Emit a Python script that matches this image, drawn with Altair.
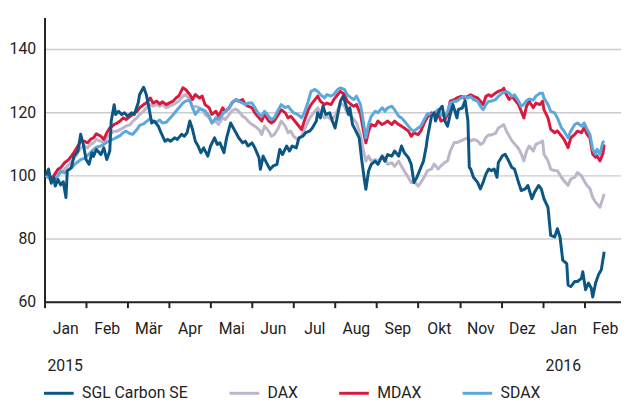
import altair as alt
import pandas as pd

# ---------------- data ----------------
idx_dates = [
    "2015-01-02","2015-01-07","2015-01-11","2015-01-13","2015-01-16","2015-01-19","2015-01-22","2015-01-25","2015-01-28","2015-01-31",
    "2015-02-02","2015-02-04","2015-02-06","2015-02-08","2015-02-11","2015-02-13","2015-02-15","2015-02-17","2015-02-20","2015-02-22","2015-02-24","2015-02-26","2015-02-28",
    "2015-03-03","2015-03-05","2015-03-08","2015-03-10","2015-03-13","2015-03-15","2015-03-18","2015-03-20","2015-03-23","2015-03-25","2015-03-27","2015-03-30",
    "2015-04-01","2015-04-04","2015-04-06","2015-04-08","2015-04-11","2015-04-13","2015-04-16","2015-04-18","2015-04-20","2015-04-23","2015-04-25","2015-04-27","2015-04-30",
    "2015-05-02","2015-05-05","2015-05-07","2015-05-10","2015-05-12","2015-05-15","2015-05-17","2015-05-20","2015-05-22","2015-05-25","2015-05-27","2015-05-29",
    "2015-06-01","2015-06-03","2015-06-06","2015-06-08","2015-06-10","2015-06-13","2015-06-15","2015-06-17","2015-06-20","2015-06-22","2015-06-25","2015-06-27","2015-06-29",
    "2015-07-01","2015-07-04","2015-07-07","2015-07-09","2015-07-12","2015-07-14","2015-07-17","2015-07-19","2015-07-21","2015-07-24","2015-07-26","2015-07-29","2015-07-31",
    "2015-08-03","2015-08-05","2015-08-08","2015-08-10","2015-08-13","2015-08-15","2015-08-17","2015-08-20","2015-08-22","2015-08-24","2015-08-26","2015-08-28","2015-08-31",
    "2015-09-02","2015-09-05","2015-09-07","2015-09-09","2015-09-12","2015-09-14","2015-09-17","2015-09-19","2015-09-21","2015-09-24","2015-09-26","2015-09-28",
    "2015-10-01","2015-10-03","2015-10-06","2015-10-08","2015-10-11","2015-10-13","2015-10-16","2015-10-18","2015-10-21","2015-10-23","2015-10-25","2015-10-28","2015-10-30",
    "2015-11-02","2015-11-04","2015-11-07","2015-11-09","2015-11-11","2015-11-14","2015-11-16","2015-11-18","2015-11-20","2015-11-22","2015-11-24","2015-11-27","2015-11-29",
    "2015-12-02","2015-12-03","2015-12-05","2015-12-07","2015-12-09","2015-12-11","2015-12-14","2015-12-16","2015-12-18","2015-12-20","2015-12-22","2015-12-25","2015-12-27","2015-12-30",
    "2016-01-01","2016-01-02","2016-01-05","2016-01-07","2016-01-10","2016-01-12","2016-01-15","2016-01-17","2016-01-20","2016-01-22","2016-01-25","2016-01-27","2016-01-30",
    "2016-02-01","2016-02-03","2016-02-05","2016-02-07","2016-02-09","2016-02-10","2016-02-12","2016-02-14","2016-02-15",
]

mdax = [
    100, 99.3, 101.9, 102.4, 104, 105, 106.6, 108.7, 110.8, 110.8,
    110.3, 111.4, 111.9, 113.2, 112.4, 111.4, 113.5, 115, 116.1, 116.6, 117.2, 118.2, 117.7,
    118.7, 119.3, 120.3, 121.4, 122.4, 122.9, 124.5, 122.9, 123.5, 122.6, 123.3, 122.4,
    122.9, 123.5, 124.5, 125.1, 127.7, 127.2, 125.6, 124, 125.6, 124.5, 125.1, 122.4, 121.4,
    119.3, 120.3, 118.7, 121.4, 120.3, 121.4, 123, 124, 123.5, 124, 122.4, 121.9,
    121.4, 119.8, 118.2, 117.2, 119.3, 117.2, 116.6, 117.2, 119.3, 120.8, 119.8, 118.2, 118.7,
    117.7, 116.1, 114.5, 117.2, 120.8, 122.4, 124, 125.1, 123.5, 122.4, 122.9, 122.4, 124,
    125.6, 126.6, 125.6, 123.5, 122.4, 121.9, 122.4, 119.3, 114.5, 110.3, 114, 116.1, 115.6,
    117.2, 116.1, 116.6, 117.2, 116.1, 117.2, 116.1, 115.6, 115, 114, 112.4, 113.5,
    112.9, 114, 117, 118.5, 119.8, 119.3, 119.8, 117.2, 117.7, 119.3, 123.5, 124, 124.5,
    125, 124.5, 125, 125.5, 125, 124.5, 123.5, 122.4, 125, 125.5, 125, 126.1, 126.6,
    127.1, 127.6, 125.5, 124, 125, 124, 122.4, 120.3, 118.2, 121.9, 123.5, 121.4, 122.9, 122.4,
    123.5, 120.8, 118.2, 114.6, 113.5, 114.1, 112.5, 111.4, 108.8, 111.9, 113, 114, 113.5,
    115.1, 113, 111.9, 106.7, 105.7, 106.2, 104.6, 106.7, 109.8,
]

sdax = [
    100, 98.2, 99.8, 101.4, 100.8, 101.8, 102.8, 104, 105, 105.5,
    106.3, 107.2, 108.2, 108.9, 109.3, 109.8, 110.5, 111, 111.6, 112.1, 112.6, 113.5, 114,
    113.2, 113, 114.5, 115.8, 116.3, 117, 118, 117, 117, 117.5, 116.6, 116.8,
    117.8, 119.2, 120.3, 121.3, 122.9, 123.5, 123.8, 121.4, 119.3, 121, 120.8, 120.5, 118.7,
    116.6, 118.2, 117.7, 119.3, 120.3, 121.4, 123, 124, 123.5, 122.9, 122.4, 122.9,
    122.9, 121.4, 119.3, 118.7, 120.3, 118.7, 117.7, 118.2, 120.8, 122.4, 121.4, 121.9, 120.8,
    119.8, 119.3, 118.2, 119.8, 123.5, 126.6, 127.2, 126.6, 125.6, 124.5, 125.6, 125.1, 125.6,
    127.2, 127.7, 127.2, 125.6, 124.5, 124, 125.1, 122.4, 117.2, 111.9, 116.1, 118.7, 120.3,
    119.8, 121.4, 120.3, 121.4, 121.9, 120.8, 118.7, 118.2, 117.2, 115.6, 114.5, 114,
    115, 115.6, 118, 119.5, 119.3, 119.8, 120.8, 119.3, 118.7, 120.3, 122.9, 123.5, 123.5,
    124.5, 125, 124.5, 125, 124, 123.5, 121.9, 120.8, 122.4, 123.5, 123.5, 124, 125,
    126.1, 126.3, 126.5, 126.1, 125, 125.5, 123.5, 121.9, 122.5, 123.7, 124.2, 123.8, 125.1, 126,
    126, 124.5, 122.4, 120.3, 119.8, 118.2, 115.1, 114, 111.9, 114, 116.1, 116.6, 115.6,
    116.6, 114.6, 113, 108.3, 106.7, 108.3, 106.7, 110.4, 110.9,
]

dax = [
    100, 98.2, 100.3, 100.8, 102, 103.3, 104.8, 106.5, 108.7, 109.3,
    108.7, 109.8, 110.3, 111.4, 110.8, 110.3, 111.9, 112.9, 114, 114, 114.5, 115, 115.6,
    116.1, 117.2, 118.2, 119.3, 120.3, 121.4, 122.4, 121.9, 122.4, 121.9, 122.4, 121.4,
    121.9, 122.4, 122.9, 123.5, 125.1, 125.6, 124, 121.4, 121.9, 121.4, 120.8, 119.3, 118.2,
    116.6, 117.2, 116.1, 118.2, 117.7, 119.3, 120.5, 121, 120.3, 118.7, 118.2, 117.2,
    116.1, 115.6, 114.5, 112.9, 115.6, 114, 112.4, 112.9, 115, 117.2, 115.6, 113.5, 114,
    112.4, 111.4, 112.4, 114.5, 117.2, 118.7, 120.3, 121.4, 119.8, 118.2, 118.7, 117.7, 118.2,
    120.8, 122.9, 121.9, 119.8, 118.7, 117.7, 116.6, 112.9, 108.2, 104.5, 106.1, 104.5, 105,
    104.5, 106.1, 105.6, 103.5, 104, 102.9, 104.5, 102.9, 101.4, 99.3, 97.7, 98.2,
    96.6, 97.7, 99.8, 101.5, 102, 103.6, 102, 103, 104.1, 104.6, 107.7, 110.4, 110.4,
    110.9, 111.4, 111.9, 110.9, 111.4, 110.9, 109.8, 110.3, 112, 112.8, 112.8, 113.3, 115,
    115.8, 116.1, 114, 112.5, 111, 110, 108.5, 106.8, 104.6, 107.7, 109.3, 107.7, 109.8, 110.4,
    110.9, 106.7, 104.6, 102, 101.5, 101.5, 99.4, 98.3, 96.8, 98.8, 99.4, 100.9, 99.9,
    98.3, 96.8, 95.9, 93, 91.5, 91, 89.9, 92.6, 94.1,
]

sgl_dates = [
    "2015-01-02","2015-01-04","2015-01-06","2015-01-08","2015-01-09","2015-01-11","2015-01-13","2015-01-15","2015-01-17","2015-01-18","2015-01-21","2015-01-23","2015-01-26","2015-01-28","2015-01-30",
    "2015-02-01","2015-02-03","2015-02-05","2015-02-06","2015-02-08","2015-02-11","2015-02-13","2015-02-15","2015-02-17","2015-02-18","2015-02-20","2015-02-21","2015-02-23","2015-02-25","2015-02-27",
    "2015-03-01","2015-03-04","2015-03-06","2015-03-09","2015-03-10","2015-03-13","2015-03-15","2015-03-17","2015-03-19","2015-03-21","2015-03-24","2015-03-26","2015-03-29","2015-03-31",
    "2015-04-02","2015-04-05","2015-04-07","2015-04-10","2015-04-12","2015-04-14","2015-04-16","2015-04-18","2015-04-20","2015-04-22","2015-04-24","2015-04-26","2015-04-29",
    "2015-05-01","2015-05-04","2015-05-06","2015-05-08","2015-05-11","2015-05-13","2015-05-16","2015-05-18","2015-05-20","2015-05-22","2015-05-25","2015-05-27","2015-05-29",
    "2015-06-01","2015-06-03","2015-06-06","2015-06-07","2015-06-09","2015-06-12","2015-06-14","2015-06-16","2015-06-19","2015-06-21","2015-06-23","2015-06-26","2015-06-28","2015-06-30",
    "2015-07-03","2015-07-05","2015-07-08","2015-07-10","2015-07-13","2015-07-15","2015-07-18","2015-07-19","2015-07-21","2015-07-23","2015-07-25","2015-07-28","2015-07-30",
    "2015-08-01","2015-08-03","2015-08-05","2015-08-07","2015-08-09","2015-08-11","2015-08-12","2015-08-14","2015-08-16","2015-08-19","2015-08-21","2015-08-23","2015-08-24","2015-08-26","2015-08-28","2015-08-31",
    "2015-09-02","2015-09-05","2015-09-07","2015-09-09","2015-09-12","2015-09-14","2015-09-17","2015-09-19","2015-09-21","2015-09-24","2015-09-26","2015-09-28","2015-09-30",
    "2015-10-02","2015-10-05","2015-10-07","2015-10-08","2015-10-11","2015-10-13","2015-10-14","2015-10-17","2015-10-19","2015-10-21","2015-10-23","2015-10-25","2015-10-27","2015-10-30","2015-10-31",
    "2015-11-03","2015-11-05","2015-11-07","2015-11-08","2015-11-09","2015-11-11","2015-11-14","2015-11-16","2015-11-18","2015-11-20","2015-11-22","2015-11-24","2015-11-26","2015-11-28","2015-11-29",
    "2015-12-02","2015-12-04","2015-12-06","2015-12-09","2015-12-11","2015-12-14","2015-12-16","2015-12-19","2015-12-21","2015-12-24","2015-12-26","2015-12-29","2015-12-31",
    "2016-01-02","2016-01-05","2016-01-07","2016-01-10","2016-01-12","2016-01-14","2016-01-16","2016-01-19","2016-01-20","2016-01-22","2016-01-25","2016-01-27","2016-01-30","2016-01-31",
    "2016-02-02","2016-02-04","2016-02-06","2016-02-07","2016-02-09","2016-02-11","2016-02-13","2016-02-15",
]

sgl = [
    100, 102, 97.5, 99.3, 96.6, 98.7, 97, 98, 93, 101.4, 102.4, 106.1, 107.7, 113, 109.8,
    105, 103.5, 107.2, 106, 108.2, 106.6, 108.7, 105, 107.7, 117.2, 122.4, 119.3, 120.3, 119.3, 119.8,
    118.7, 119.8, 119.3, 123, 125.6, 127.9, 125.6, 121.4, 116.6, 117.2, 115.6, 113.5, 110.8, 111.4,
    110.8, 111.9, 111.4, 113, 112.4, 113.5, 117.2, 114.5, 110.8, 109.3, 107.2, 108.7, 106.1,
    109.3, 111.9, 109.8, 110.3, 107.2, 111.9, 116.6, 115, 113.5, 111.9, 110.3, 110.8, 109.3,
    110.3, 108.7, 105.6, 101.9, 106.1, 103.5, 101.9, 102.9, 103.5, 108.2, 106.6, 109.3, 107.7, 109.3,
    108.7, 111.9, 112.4, 113.5, 114, 115, 117.2, 119.8, 118.2, 121.9, 119.3, 119.8, 117.2,
    115, 119.3, 123.5, 125.1, 122.4, 119.3, 121.4, 116.1, 114.5, 111.9, 104.5, 98.2, 95.6, 101.4, 103.5, 104.5,
    103.5, 106.1, 104.5, 106.6, 106.1, 107.7, 106.1, 109.3, 107.2, 105.6, 103.5, 97.7, 99.3,
    101.4, 104.5, 109, 112, 118.7, 119.8, 117.2, 120.8, 121.9, 117.2, 115.6, 119.3, 122.4, 118.2, 120.8,
    121.4, 123.7, 117.2, 102.5, 102, 99.4, 97.8, 95.7, 97.8, 100.4, 102, 101.5, 102, 99.4, 104.1,
    106.2, 106.7, 105.1, 102.5, 102, 97.8, 95.2, 95.7, 96.8, 92.6, 94.7, 96.8, 95.7,
    92.6, 89.9, 81, 80.5, 83.1, 80.5, 73.2, 72.1, 65.3, 64.8, 66.4, 66.4, 67.4, 69.5,
    63.8, 65.9, 64.3, 61.5, 65.9, 68.5, 70.1, 75.8,
]

series_names = ["SGL Carbon SE", "DAX", "MDAX", "SDAX"]
series_colors = ["#0b5683", "#bdb5ca", "#d81a3f", "#5aa8dc"]
month_labels = ["Jan", "Feb", "Mär", "Apr", "Mai", "Jun", "Jul", "Aug", "Sep", "Okt", "Nov", "Dez", "Jan", "Feb"]
year_labels = ["2015", "2016"]
year_dates = ["2015-01-01", "2016-01-01"]
y_ticks = [60, 80, 100, 120, 140]

assert len(idx_dates) == len(mdax) == len(sdax) == len(dax)
assert len(sgl_dates) == len(sgl)


# month position: months are drawn with equal width, as in the reference
def month_pos(dates):
    d = pd.to_datetime(pd.Series(dates))
    return ((d.dt.year - 2015) * 12 + (d.dt.month - 1)
            + (d.dt.day - 1) / d.dt.days_in_month).tolist()


frames = [
    pd.DataFrame({"t": month_pos(sgl_dates), "v": sgl, "s": series_names[0]}),
    pd.DataFrame({"t": month_pos(idx_dates), "v": dax, "s": series_names[1]}),
    pd.DataFrame({"t": month_pos(idx_dates), "v": mdax, "s": series_names[2]}),
    pd.DataFrame({"t": month_pos(idx_dates), "v": sdax, "s": series_names[3]}),
]
df = pd.concat(frames, ignore_index=True)
years = pd.DataFrame({"t": month_pos(year_dates), "label": year_labels})

FONT = "Roboto"
TXT = "#222222"
W, H = 584, 288
x_max = 13.888

label_expr = "[" + ",".join("'" + m + "'" for m in month_labels) + "][datum.value]"

x_enc = alt.X(
    "t:Q",
    scale=alt.Scale(domain=[0, x_max], nice=False, zero=False),
    axis=alt.Axis(
        values=list(range(len(month_labels))), labelExpr=label_expr, title=None,
        grid=False, domain=True, domainColor=TXT, domainWidth=2,
        ticks=True, tickColor=TXT, tickWidth=2, tickSize=6,
        labelOffset=21, labelPadding=13, labelFont=FONT, labelFontSize=16,
        labelColor=TXT, labelFlush=False, labelOverlap=False, labelBound=False,
    ),
)
y_enc = alt.Y(
    "v:Q",
    scale=alt.Scale(domain=[60, 150], nice=False, zero=False),
    axis=alt.Axis(
        values=y_ticks, title=None, grid=True, gridColor="#cccccc", gridWidth=1.5,
        domain=True, domainColor=TXT, domainWidth=2, ticks=False,
        labelPadding=9, labelFont=FONT, labelFontSize=16, labelColor=TXT,
    ),
)
color_enc = alt.Color(
    "s:N",
    scale=alt.Scale(domain=series_names, range=series_colors),
    legend=alt.Legend(
        title=None, orient="none", legendX=-2, legendY=364, direction="horizontal",
        columns=4, symbolType="stroke", symbolSize=900, symbolStrokeWidth=3,
        labelFont=FONT, labelFontSize=16, labelColor=TXT, labelOffset=7,
        columnPadding=35, padding=0,
    ),
)

base = alt.Chart(df).mark_line(strokeWidth=3, strokeJoin="round").encode(
    x=x_enc, y=y_enc, color=color_enc
)
draw_order = ["DAX", "MDAX", "SDAX", "SGL Carbon SE"]
layers = [base.transform_filter(alt.datum.s == name) for name in draw_order]

year_text = alt.Chart(years).mark_text(
    align="left", baseline="middle", dx=3, font=FONT, fontSize=16, color=TXT
).encode(x="t:Q", y=alt.value(353), text="label:N")

chart = alt.layer(*layers, year_text).properties(
    width=W, height=H,
    autosize=alt.AutoSizeParams(type="none"),
    padding={"left": 37, "top": 7, "right": 0, "bottom": 98},
).configure_view(stroke=None)

chart.save("out.html", embed_options={"renderer": "svg", "actions": False})
